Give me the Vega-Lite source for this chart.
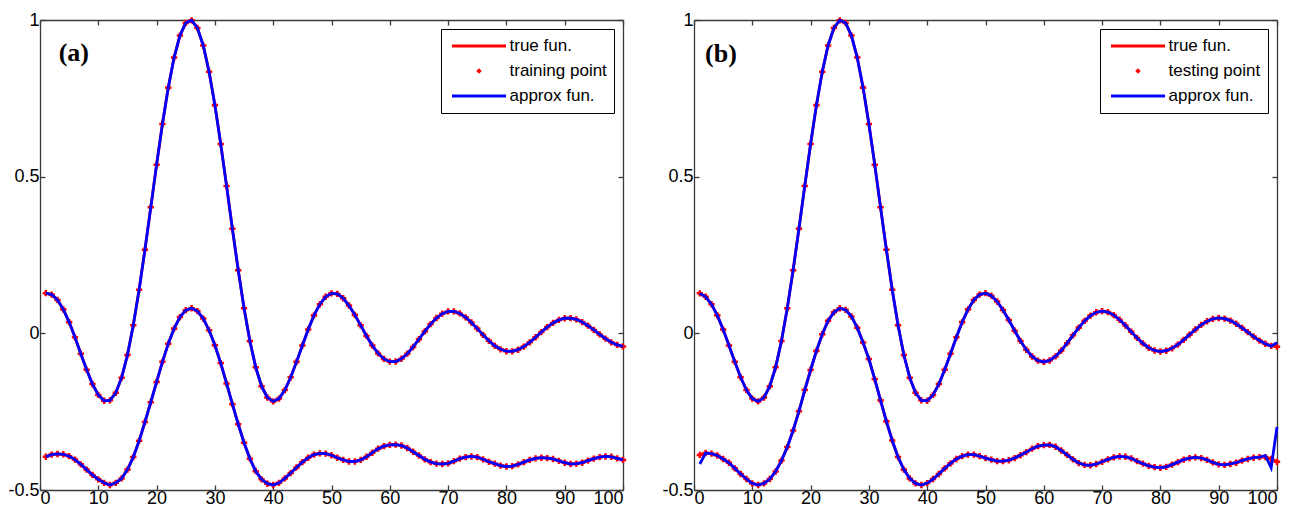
{
  "$schema": "https://vega.github.io/schema/vega-lite/v6.json",
  "background": "white",
  "padding": {"left": 7, "top": 11, "right": 0, "bottom": 0},
  "bounds": "flush",
  "spacing": 71,
  "datasets": {
    "train": [
      {"x":1,"u":0.1282,"l":-0.394},{"x":2,"u":0.1238,"l":-0.387},{"x":3,"u":0.1064,"l":-0.385},{"x":4,"u":0.0765,"l":-0.386},{"x":5,"u":0.0358,"l":-0.392},
      {"x":6,"u":-0.0127,"l":-0.403},{"x":7,"u":-0.065,"l":-0.418},{"x":8,"u":-0.1165,"l":-0.435},{"x":9,"u":-0.162,"l":-0.452},{"x":10,"u":-0.1965,"l":-0.466},
      {"x":11,"u":-0.2151,"l":-0.477},{"x":12,"u":-0.2139,"l":-0.484},{"x":13,"u":-0.1898,"l":-0.477},{"x":14,"u":-0.1415,"l":-0.463},{"x":15,"u":-0.0691,"l":-0.435},
      {"x":16,"u":0.0256,"l":-0.395},{"x":17,"u":0.1392,"l":-0.343},{"x":18,"u":0.2667,"l":-0.283},{"x":19,"u":0.4021,"l":-0.22},{"x":20,"u":0.5383,"l":-0.155},
      {"x":21,"u":0.668,"l":-0.091},{"x":22,"u":0.7842,"l":-0.033},{"x":23,"u":0.8802,"l":0.015},{"x":24,"u":0.9503,"l":0.052},{"x":25,"u":0.9907,"l":0.074},
      {"x":26,"u":0.999,"l":0.08},{"x":27,"u":0.9745,"l":0.071},{"x":28,"u":0.9187,"l":0.047},{"x":29,"u":0.8351,"l":0.01},{"x":30,"u":0.7283,"l":-0.038},
      {"x":31,"u":0.6044,"l":-0.095},{"x":32,"u":0.4705,"l":-0.16},{"x":33,"u":0.3338,"l":-0.226},{"x":34,"u":0.2016,"l":-0.29},{"x":35,"u":0.0803,"l":-0.349},
      {"x":36,"u":-0.0244,"l":-0.4},{"x":37,"u":-0.1083,"l":-0.44},{"x":38,"u":-0.1687,"l":-0.466},{"x":39,"u":-0.2048,"l":-0.48},{"x":40,"u":-0.2172,"l":-0.484},
      {"x":41,"u":-0.2081,"l":-0.477},{"x":42,"u":-0.181,"l":-0.463},{"x":43,"u":-0.1403,"l":-0.446},{"x":44,"u":-0.0911,"l":-0.428},{"x":45,"u":-0.0386,"l":-0.411},
      {"x":46,"u":0.0123,"l":-0.397},{"x":47,"u":0.0573,"l":-0.387},{"x":48,"u":0.0929,"l":-0.383},{"x":49,"u":0.1167,"l":-0.384},{"x":50,"u":0.1276,"l":-0.389},
      {"x":51,"u":0.1257,"l":-0.397},{"x":52,"u":0.112,"l":-0.404},{"x":53,"u":0.0888,"l":-0.409},{"x":54,"u":0.0589,"l":-0.409},{"x":55,"u":0.0254,"l":-0.404},
      {"x":56,"u":-0.0083,"l":-0.394},{"x":57,"u":-0.039,"l":-0.381},{"x":58,"u":-0.0641,"l":-0.368},{"x":59,"u":-0.0816,"l":-0.36},{"x":60,"u":-0.0904,"l":-0.356},
      {"x":61,"u":-0.09,"l":-0.355},{"x":62,"u":-0.0811,"l":-0.358},{"x":63,"u":-0.065,"l":-0.366},{"x":64,"u":-0.0435,"l":-0.378},{"x":65,"u":-0.0189,"l":-0.39},
      {"x":66,"u":0.0062,"l":-0.402},{"x":67,"u":0.0295,"l":-0.411},{"x":68,"u":0.0489,"l":-0.416},{"x":69,"u":0.0627,"l":-0.417},{"x":70,"u":0.0699,"l":-0.415},
      {"x":71,"u":0.0701,"l":-0.408},{"x":72,"u":0.0636,"l":-0.4},{"x":73,"u":0.0512,"l":-0.395},{"x":74,"u":0.0345,"l":-0.393},{"x":75,"u":0.0151,"l":-0.395},
      {"x":76,"u":-0.005,"l":-0.402},{"x":77,"u":-0.0238,"l":-0.41},{"x":78,"u":-0.0396,"l":-0.416},{"x":79,"u":-0.051,"l":-0.422},{"x":80,"u":-0.0571,"l":-0.425},
      {"x":81,"u":-0.0574,"l":-0.424},{"x":82,"u":-0.0523,"l":-0.418},{"x":83,"u":-0.0423,"l":-0.411},{"x":84,"u":-0.0286,"l":-0.404},{"x":85,"u":-0.0125,"l":-0.399},
      {"x":86,"u":0.0041,"l":-0.397},{"x":87,"u":0.0199,"l":-0.398},{"x":88,"u":0.0332,"l":-0.401},{"x":89,"u":0.0429,"l":-0.407},{"x":90,"u":0.0482,"l":-0.413},
      {"x":91,"u":0.0486,"l":-0.417},{"x":92,"u":0.0444,"l":-0.416},{"x":93,"u":0.036,"l":-0.413},{"x":94,"u":0.0244,"l":-0.406},{"x":95,"u":0.0107,"l":-0.4},
      {"x":96,"u":-0.0036,"l":-0.395},{"x":97,"u":-0.0171,"l":-0.393},{"x":98,"u":-0.0286,"l":-0.394},{"x":99,"u":-0.037,"l":-0.399},{"x":100,"u":-0.0417,"l":-0.404}
    ],
    "test": [
      {"x":1,"u":0.1276,"l":-0.388,"ua":0.1276,"la":-0.417},{"x":2,"u":0.1167,"l":-0.382,"ua":0.1167,"la":-0.382},{"x":3,"u":0.0929,"l":-0.384,"ua":0.0929,"la":-0.384},
      {"x":4,"u":0.0573,"l":-0.39,"ua":0.0573,"la":-0.39},{"x":5,"u":0.0123,"l":-0.401,"ua":0.0123,"la":-0.401},{"x":6,"u":-0.0386,"l":-0.413,"ua":-0.0386,"la":-0.413},
      {"x":7,"u":-0.0911,"l":-0.431,"ua":-0.0911,"la":-0.431},{"x":8,"u":-0.1403,"l":-0.449,"ua":-0.1403,"la":-0.449},{"x":9,"u":-0.181,"l":-0.465,"ua":-0.181,"la":-0.465},
      {"x":10,"u":-0.2081,"l":-0.479,"ua":-0.2081,"la":-0.479},{"x":11,"u":-0.2172,"l":-0.484,"ua":-0.2172,"la":-0.484},{"x":12,"u":-0.2048,"l":-0.479,"ua":-0.2048,"la":-0.479},
      {"x":13,"u":-0.1687,"l":-0.465,"ua":-0.1687,"la":-0.465},{"x":14,"u":-0.1083,"l":-0.441,"ua":-0.1083,"la":-0.441},{"x":15,"u":-0.0244,"l":-0.406,"ua":-0.0244,"la":-0.406},
      {"x":16,"u":0.0803,"l":-0.363,"ua":0.0803,"la":-0.363},{"x":17,"u":0.2016,"l":-0.31,"ua":0.2016,"la":-0.31},{"x":18,"u":0.3338,"l":-0.249,"ua":0.3338,"la":-0.249},
      {"x":19,"u":0.4705,"l":-0.181,"ua":0.4705,"la":-0.181},{"x":20,"u":0.6044,"l":-0.117,"ua":0.6044,"la":-0.117},{"x":21,"u":0.7283,"l":-0.056,"ua":0.7283,"la":-0.056},
      {"x":22,"u":0.8351,"l":-0.003,"ua":0.8351,"la":-0.003},{"x":23,"u":0.9187,"l":0.04,"ua":0.9187,"la":0.04},{"x":24,"u":0.9745,"l":0.067,"ua":0.9745,"la":0.067},
      {"x":25,"u":0.999,"l":0.08,"ua":0.999,"la":0.08},{"x":26,"u":0.9907,"l":0.075,"ua":0.9907,"la":0.075},{"x":27,"u":0.9503,"l":0.054,"ua":0.9503,"la":0.054},
      {"x":28,"u":0.8802,"l":0.018,"ua":0.8802,"la":0.018},{"x":29,"u":0.7842,"l":-0.029,"ua":0.7842,"la":-0.029},{"x":30,"u":0.668,"l":-0.082,"ua":0.668,"la":-0.082},
      {"x":31,"u":0.5383,"l":-0.146,"ua":0.5383,"la":-0.146},{"x":32,"u":0.4021,"l":-0.214,"ua":0.4021,"la":-0.214},{"x":33,"u":0.2667,"l":-0.281,"ua":0.2667,"la":-0.281},
      {"x":34,"u":0.1392,"l":-0.342,"ua":0.1392,"la":-0.342},{"x":35,"u":0.0256,"l":-0.395,"ua":0.0256,"la":-0.395},{"x":36,"u":-0.0691,"l":-0.435,"ua":-0.0691,"la":-0.435},
      {"x":37,"u":-0.1415,"l":-0.463,"ua":-0.1415,"la":-0.463},{"x":38,"u":-0.1898,"l":-0.479,"ua":-0.1898,"la":-0.479},{"x":39,"u":-0.2139,"l":-0.484,"ua":-0.2139,"la":-0.484},
      {"x":40,"u":-0.2151,"l":-0.478,"ua":-0.2151,"la":-0.478},{"x":41,"u":-0.1965,"l":-0.465,"ua":-0.1965,"la":-0.465},{"x":42,"u":-0.162,"l":-0.449,"ua":-0.162,"la":-0.449},
      {"x":43,"u":-0.1165,"l":-0.431,"ua":-0.1165,"la":-0.431},{"x":44,"u":-0.065,"l":-0.415,"ua":-0.065,"la":-0.415},{"x":45,"u":-0.0127,"l":-0.401,"ua":-0.0127,"la":-0.401},
      {"x":46,"u":0.0358,"l":-0.392,"ua":0.0358,"la":-0.392},{"x":47,"u":0.0765,"l":-0.387,"ua":0.0765,"la":-0.387},{"x":48,"u":0.1064,"l":-0.387,"ua":0.1064,"la":-0.387},
      {"x":49,"u":0.1238,"l":-0.392,"ua":0.1238,"la":-0.392},{"x":50,"u":0.1282,"l":-0.398,"ua":0.1282,"la":-0.398},{"x":51,"u":0.1202,"l":-0.403,"ua":0.1202,"la":-0.403},
      {"x":52,"u":0.1015,"l":-0.408,"ua":0.1015,"la":-0.408},{"x":53,"u":0.0745,"l":-0.408,"ua":0.0745,"la":-0.408},{"x":54,"u":0.0424,"l":-0.405,"ua":0.0424,"la":-0.405},
      {"x":55,"u":0.0084,"l":-0.398,"ua":0.0084,"la":-0.398},{"x":56,"u":-0.0242,"l":-0.389,"ua":-0.0242,"la":-0.389},{"x":57,"u":-0.0524,"l":-0.379,"ua":-0.0524,"la":-0.379},
      {"x":58,"u":-0.0739,"l":-0.368,"ua":-0.0739,"la":-0.368},{"x":59,"u":-0.0871,"l":-0.36,"ua":-0.0871,"la":-0.36},{"x":60,"u":-0.0913,"l":-0.357,"ua":-0.0913,"la":-0.357},
      {"x":61,"u":-0.0866,"l":-0.356,"ua":-0.0866,"la":-0.356},{"x":62,"u":-0.0738,"l":-0.362,"ua":-0.0738,"la":-0.362},{"x":63,"u":-0.0548,"l":-0.374,"ua":-0.0548,"la":-0.374},
      {"x":64,"u":-0.0314,"l":-0.388,"ua":-0.0314,"la":-0.388},{"x":65,"u":-0.0063,"l":-0.402,"ua":-0.0063,"la":-0.402},{"x":66,"u":0.0182,"l":-0.414,"ua":0.0182,"la":-0.414},
      {"x":67,"u":0.0398,"l":-0.42,"ua":0.0398,"la":-0.42},{"x":68,"u":0.0566,"l":-0.421,"ua":0.0566,"la":-0.421},{"x":69,"u":0.0672,"l":-0.417,"ua":0.0672,"la":-0.417},
      {"x":70,"u":0.0709,"l":-0.41,"ua":0.0709,"la":-0.41},{"x":71,"u":0.0677,"l":-0.402,"ua":0.0677,"la":-0.402},{"x":72,"u":0.0581,"l":-0.396,"ua":0.0581,"la":-0.396},
      {"x":73,"u":0.0433,"l":-0.393,"ua":0.0433,"la":-0.393},{"x":74,"u":0.025,"l":-0.394,"ua":0.025,"la":-0.394},{"x":75,"u":0.005,"l":-0.399,"ua":0.005,"la":-0.399},
      {"x":76,"u":-0.0146,"l":-0.408,"ua":-0.0146,"la":-0.408},{"x":77,"u":-0.0321,"l":-0.416,"ua":-0.0321,"la":-0.416},{"x":78,"u":-0.0459,"l":-0.423,"ua":-0.0459,"la":-0.423},
      {"x":79,"u":-0.0547,"l":-0.427,"ua":-0.0547,"la":-0.427},{"x":80,"u":-0.058,"l":-0.429,"ua":-0.058,"la":-0.429},{"x":81,"u":-0.0555,"l":-0.426,"ua":-0.0555,"la":-0.426},
      {"x":82,"u":-0.0478,"l":-0.419,"ua":-0.0478,"la":-0.419},{"x":83,"u":-0.0358,"l":-0.411,"ua":-0.0358,"la":-0.411},{"x":84,"u":-0.0207,"l":-0.403,"ua":-0.0207,"la":-0.403},
      {"x":85,"u":-0.0042,"l":-0.398,"ua":-0.0042,"la":-0.398},{"x":86,"u":0.0122,"l":-0.396,"ua":0.0122,"la":-0.396},{"x":87,"u":0.0269,"l":-0.398,"ua":0.0269,"la":-0.398},
      {"x":88,"u":0.0386,"l":-0.404,"ua":0.0386,"la":-0.404},{"x":89,"u":0.0461,"l":-0.412,"ua":0.0461,"la":-0.412},{"x":90,"u":0.049,"l":-0.418,"ua":0.049,"la":-0.418},
      {"x":91,"u":0.0471,"l":-0.42,"ua":0.0471,"la":-0.42},{"x":92,"u":0.0407,"l":-0.417,"ua":0.0407,"la":-0.417},{"x":93,"u":0.0305,"l":-0.413,"ua":0.0305,"la":-0.413},
      {"x":94,"u":0.0177,"l":-0.406,"ua":0.0177,"la":-0.406},{"x":95,"u":0.0036,"l":-0.401,"ua":0.0036,"la":-0.401},{"x":96,"u":-0.0105,"l":-0.397,"ua":-0.0105,"la":-0.397},
      {"x":97,"u":-0.0232,"l":-0.395,"ua":-0.0232,"la":-0.395},{"x":98,"u":-0.0333,"l":-0.395,"ua":-0.0333,"la":-0.39},{"x":99,"u":-0.0399,"l":-0.401,"ua":-0.041,"la":-0.429},
      {"x":100,"u":-0.0425,"l":-0.41,"ua":-0.03,"la":-0.299}
    ]
  },
  "hconcat": [
    {
      "width": 583,
      "height": 470,
      "data": {"name": "train"},
      "layer": [
        {
          "mark": {"type": "line", "strokeWidth": 2.8},
          "transform": [{"fold": ["u", "l"], "as": ["curve", "y"]}],
          "encoding": {
            "x": {"field": "x", "type": "quantitative", "scale": {"domain": [0, 100], "nice": false, "zero": false},
                  "axis": {"orient": "bottom", "title": null, "values": [0,10,20,30,40,50,60,70,80,90,100], "tickSize": -5, "labelPadding": 4, "labelExpr": "'' + datum.value"}},
            "y": {"field": "y", "type": "quantitative", "scale": {"domain": [-0.5, 1], "nice": false, "zero": false},
                  "axis": {"orient": "left", "title": null, "values": [-0.5, 0, 0.5, 1], "tickSize": -5, "labelPadding": 6, "labelExpr": "'' + datum.value"}},
            "detail": {"field": "curve"},
            "color": {
              "datum": "true fun.",
              "scale": {"domain": ["true fun.", "training point", "approx fun."], "range": ["#ff0000", "#ff0000", "#0000ff"]},
              "legend": {
                "title": null, "orient": "top-right", "offset": 9,
                "strokeColor": "#000000", "fillColor": "#ffffff", "padding": 7,
                "symbolType": {"expr": "datum.value === 'training point' ? 'diamond' : 'stroke'"},
                "symbolSize": {"expr": "datum.value === 'training point' ? 30 : 2916"},
                "symbolStrokeWidth": {"expr": "datum.value === 'training point' ? 0 : 3"},
                "symbolFillColor": {"expr": "datum.value === 'training point' ? '#ff0000' : 'transparent'"},
                "clipHeight": 20, "rowPadding": 5, "symbolOffset": 22.5, "labelOffset": 22,
                "labelFont": "Liberation Sans", "labelFontSize": 17, "labelColor": "#000000"
              }
            }
          }
        },
        {
          "mark": {"type": "point", "shape": "cross", "filled": true, "size": 40, "opacity": 1},
          "transform": [{"fold": ["u", "l"], "as": ["curve", "y"]}],
          "encoding": {
            "x": {"field": "x", "type": "quantitative",
                  "axis": {"orient": "top", "title": null, "labels": false, "values": [0,10,20,30,40,50,60,70,80,90,100], "tickSize": -5}},
            "y": {"field": "y", "type": "quantitative",
                  "axis": {"orient": "right", "title": null, "labels": false, "values": [-0.5, 0, 0.5, 1], "tickSize": -5}},
            "color": {"datum": "training point"}
          }
        },
        {
          "mark": {"type": "line", "strokeWidth": 2.8},
          "transform": [{"fold": ["u", "l"], "as": ["curve", "y"]}],
          "encoding": {
            "x": {"field": "x", "type": "quantitative", "axis": null},
            "y": {"field": "y", "type": "quantitative", "axis": null},
            "detail": {"field": "curve"},
            "color": {"datum": "approx fun."}
          }
        },
        {
          "data": {"values": [{"label": "(a)"}]},
          "mark": {"type": "text", "font": "Liberation Serif", "fontWeight": "bold", "fontSize": 26, "align": "left", "baseline": "alphabetic", "fill": "#000000"},
          "encoding": {
            "x": {"datum": 3.2, "type": "quantitative", "axis": null},
            "y": {"datum": 0.868, "type": "quantitative", "axis": null},
            "text": {"field": "label"}
          }
        }
      ]
    },
    {
      "width": 583,
      "height": 470,
      "data": {"name": "test"},
      "layer": [
        {
          "mark": {"type": "line", "strokeWidth": 2.8},
          "transform": [{"fold": ["u", "l"], "as": ["curve", "y"]}],
          "encoding": {
            "x": {"field": "x", "type": "quantitative", "scale": {"domain": [0, 100], "nice": false, "zero": false},
                  "axis": {"orient": "bottom", "title": null, "values": [0,10,20,30,40,50,60,70,80,90,100], "tickSize": -5, "labelPadding": 4, "labelExpr": "'' + datum.value"}},
            "y": {"field": "y", "type": "quantitative", "scale": {"domain": [-0.5, 1], "nice": false, "zero": false},
                  "axis": {"orient": "left", "title": null, "values": [-0.5, 0, 0.5, 1], "tickSize": -5, "labelPadding": 6, "labelExpr": "'' + datum.value"}},
            "detail": {"field": "curve"},
            "color": {
              "datum": "true fun.",
              "scale": {"domain": ["true fun.", "testing point", "approx fun."], "range": ["#ff0000", "#ff0000", "#0000ff"]},
              "legend": {
                "title": null, "orient": "top-right", "offset": 9,
                "strokeColor": "#000000", "fillColor": "#ffffff", "padding": 7,
                "symbolType": {"expr": "datum.value === 'testing point' ? 'diamond' : 'stroke'"},
                "symbolSize": {"expr": "datum.value === 'testing point' ? 30 : 2916"},
                "symbolStrokeWidth": {"expr": "datum.value === 'testing point' ? 0 : 3"},
                "symbolFillColor": {"expr": "datum.value === 'testing point' ? '#ff0000' : 'transparent'"},
                "clipHeight": 20, "rowPadding": 5, "symbolOffset": 22.5, "labelOffset": 22,
                "labelFont": "Liberation Sans", "labelFontSize": 17, "labelColor": "#000000"
              }
            }
          }
        },
        {
          "mark": {"type": "point", "shape": "cross", "filled": true, "size": 40, "opacity": 1},
          "transform": [{"fold": ["u", "l"], "as": ["curve", "y"]}],
          "encoding": {
            "x": {"field": "x", "type": "quantitative",
                  "axis": {"orient": "top", "title": null, "labels": false, "values": [0,10,20,30,40,50,60,70,80,90,100], "tickSize": -5}},
            "y": {"field": "y", "type": "quantitative",
                  "axis": {"orient": "right", "title": null, "labels": false, "values": [-0.5, 0, 0.5, 1], "tickSize": -5}},
            "color": {"datum": "testing point"}
          }
        },
        {
          "mark": {"type": "line", "strokeWidth": 2.8},
          "transform": [{"fold": ["ua", "la"], "as": ["curve", "y"]}],
          "encoding": {
            "x": {"field": "x", "type": "quantitative", "axis": null},
            "y": {"field": "y", "type": "quantitative", "axis": null},
            "detail": {"field": "curve"},
            "color": {"datum": "approx fun."}
          }
        },
        {
          "data": {"values": [{"label": "(b)"}]},
          "mark": {"type": "text", "font": "Liberation Serif", "fontWeight": "bold", "fontSize": 26, "align": "left", "baseline": "alphabetic", "fill": "#000000"},
          "encoding": {
            "x": {"datum": 1.9, "type": "quantitative", "axis": null},
            "y": {"datum": 0.866, "type": "quantitative", "axis": null},
            "text": {"field": "label"}
          }
        }
      ]
    }
  ],
  "resolve": {"scale": {"color": "independent"}},
  "config": {
    "view": {"stroke": null},
    "axis": {
      "grid": false,
      "domainColor": "#3a3a3a", "domainWidth": 1.3,
      "tickColor": "#3a3a3a", "tickWidth": 1.3,
      "labelFont": "Liberation Sans", "labelFontSize": 18, "labelColor": "#000000"
    }
  }
}
